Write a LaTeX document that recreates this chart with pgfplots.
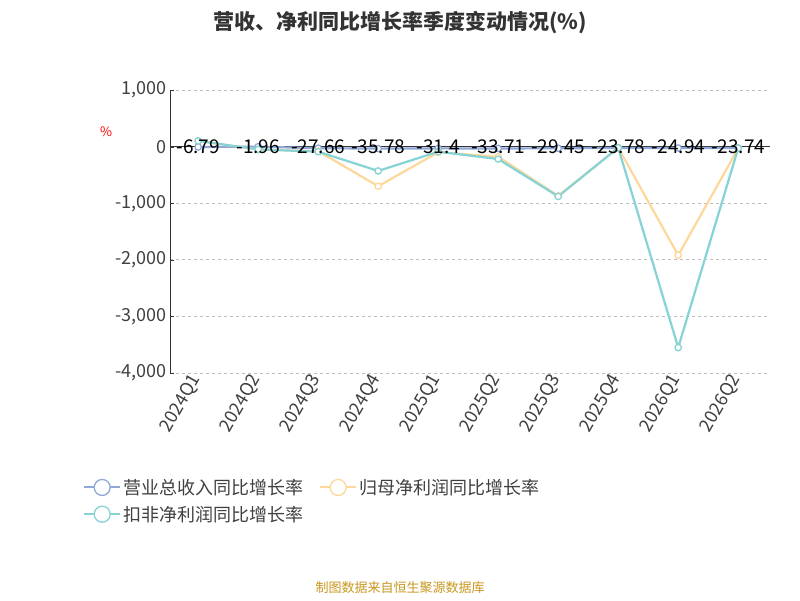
\documentclass[border=0pt]{standalone}
\usepackage{pgfplots}
\pgfplotsset{compat=1.18}
\usepackage{fontspec}
\setmainfont{Noto Sans CJK SC}
\begin{document}
\begin{tikzpicture}
\useasboundingbox (0,0) rectangle (800pt,600pt);
\definecolor{cb}{HTML}{8FA8D8}
\definecolor{cy}{HTML}{FCD89A}
\definecolor{ct}{HTML}{86D3D6}
\node[font=\bfseries\fontsize{21}{24}\selectfont, text=black!80] at (400pt,577pt) {营收、净利同比增长率季度变动情况(\%)};
\node[font=\fontsize{13}{15}\selectfont, text=red] at (106pt,468pt) {\%};
\node[font=\fontsize{13}{15}\selectfont, text={rgb,255:red,200;green,150;blue,30}] at (400pt,12pt) {制图数据来自恒生聚源数据库};
\begin{axis}[at={(170pt,227pt)}, anchor=south west, width=600pt, height=283pt, scale only axis,
 xmin=-0.47, xmax=9.53, ymin=-4000, ymax=1000,
 ytick={-4000,-3000,-2000,-1000,0,1000},
 yticklabels={-4{,}000,-3{,}000,-2{,}000,-1{,}000,0,1{,}000},
 xtick={0,...,9}, xticklabels={2024Q1,2024Q2,2024Q3,2024Q4,2025Q1,2025Q2,2025Q3,2025Q4,2026Q1,2026Q2},
 xticklabel style={rotate=60, anchor=east, font=\fontsize{18}{21}\selectfont, text=black!75},
 yticklabel style={font=\fontsize{18}{21}\selectfont, text=black!75},
 axis x line*=bottom, x axis line style={draw=none}, xtick style={draw=none},
 axis y line*=left, y axis line style={black!80}, ytick style={black!80},
 ymajorgrids, grid style={dashed, gray!50, line width=0.8pt},
 clip=false,
 legend style={at={(-0.15,-0.36)}, anchor=north west, draw=none, fill=none, font=\fontsize{18}{21}\selectfont, legend columns=2, /tikz/every even column/.append style={column sep=14pt}, text=black!75, row sep=6pt},
 legend cell align=left,
 legend image code/.code={\draw[#1, line width=2pt, mark=none] (0pt,0pt) -- (36pt,0pt); \draw[#1, fill=white, line width=1.3pt] (18pt,0pt) circle (8pt);},
 every axis plot/.append style={line width=2.2pt, mark=*, mark size=3.2pt, mark options={fill=white, line width=1.3pt}},
]
\draw[black!80, line width=0.8pt] (axis cs:-0.47,0) -- (axis cs:9.53,0);
\addplot[cb] coordinates {(0,-6.79)(1,-1.96)(2,-27.66)(3,-35.78)(4,-31.4)(5,-33.71)(6,-29.45)(7,-23.78)(8,-24.94)(9,-23.74)};
\addlegendentry{营业总收入同比增长率}
\addplot[cy] coordinates {(0,100)(1,-50)(2,-80)(3,-700)(4,-100)(5,-180)(6,-870)(7,-20)(8,-1920)(9,-30)};
\addlegendentry{归母净利润同比增长率}
\addplot[ct] coordinates {(0,100)(1,-50)(2,-90)(3,-430)(4,-90)(5,-220)(6,-880)(7,-20)(8,-3550)(9,-30)};
\addlegendentry{扣非净利润同比增长率}
\addplot[only marks, mark=none, nodes near coords, point meta=explicit symbolic, every node near coord/.style={font=\fontsize{19}{22}\selectfont, anchor=center, black}, forget plot] coordinates {(0,0)[-6.79](1,0)[-1.96](2,0)[-27.66](3,0)[-35.78](4,0)[-31.4](5,0)[-33.71](6,0)[-29.45](7,0)[-23.78](8,0)[-24.94](9,0)[-23.74]};
\end{axis}
\end{tikzpicture}
\end{document}
